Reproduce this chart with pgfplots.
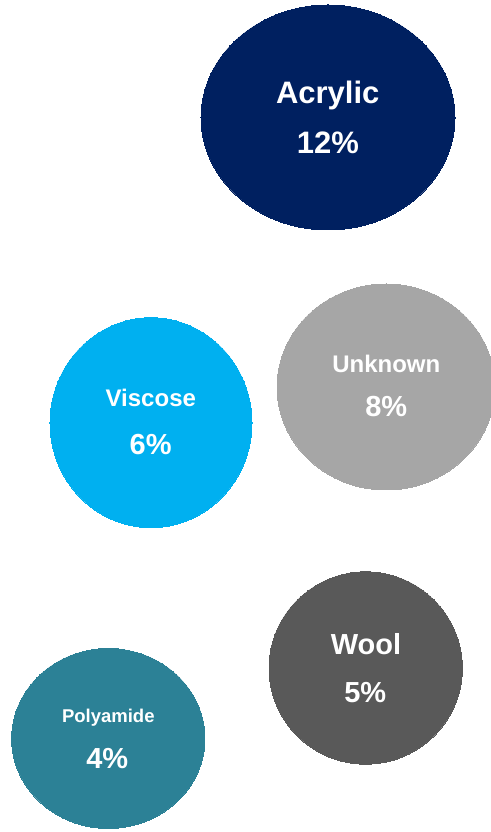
\documentclass[border=0pt]{standalone}
\usepackage{pgfplots}
\pgfplotsset{compat=1.18}
\usepackage{fontspec}
\setmainfont{Liberation Sans}
\definecolor{cAcr}{HTML}{002060}
\definecolor{cUnk}{HTML}{A6A6A6}
\definecolor{cVis}{HTML}{00B0F0}
\definecolor{cWool}{HTML}{595959}
\definecolor{cPoly}{HTML}{2C8196}
\pgfplotsset{
  bubble/.style n args={3}{only marks, mark=*, mark size=#2pt,
     mark options={xscale=#3, fill=#1, draw=#1, line width=0pt}},
  lbl/.style n args={2}{draw=none, mark=none, nodes near coords={#1},
     every node near coord/.append style={anchor=base, inner sep=0pt, text=white,
       font=\bfseries\fontsize{#2}{#2}\selectfont}},
}
\begin{document}
\begin{tikzpicture}
\useasboundingbox (0,0) rectangle (490pt,832pt);
\begin{axis}[at={(0,0)}, anchor=south west, scale only axis,
  width=490pt, height=832pt, xmin=0, xmax=490, ymin=0, ymax=832,
  hide axis, clip=false]
% bubbles: value share, positioned as in the reference
\addplot[bubble={cAcr}{112.5}{1.129}] coordinates {(328,714.5)};
\addplot[bubble={cUnk}{103}{1.058}] coordinates {(386,445)};
\addplot[bubble={cVis}{105}{0.962}] coordinates {(151,409.3)};
\addplot[bubble={cWool}{96.2}{1.005}] coordinates {(365.7,164)};
\addplot[bubble={cPoly}{90}{1.074}] coordinates {(108.3,93.5)};
% labels
\addplot[lbl={Acrylic}{31}] coordinates {(327.7,728.7)};
\addplot[lbl={12\%}{31}] coordinates {(327.8,678)};
\addplot[lbl={Unknown}{24}] coordinates {(386.3,459.7)};
\addplot[lbl={8\%}{29}] coordinates {(386.3,415.3)};
\addplot[lbl={Viscose}{24}] coordinates {(150.8,425.3)};
\addplot[lbl={6\%}{29}] coordinates {(150.7,377.7)};
\addplot[lbl={Wool}{29}] coordinates {(366,177)};
\addplot[lbl={5\%}{29}] coordinates {(365.3,129.3)};
\addplot[lbl={Polyamide}{18.5}] coordinates {(108.3,109.3)};
\addplot[lbl={4\%}{29}] coordinates {(107.3,63.7)};
\end{axis}
\end{tikzpicture}
\end{document}
